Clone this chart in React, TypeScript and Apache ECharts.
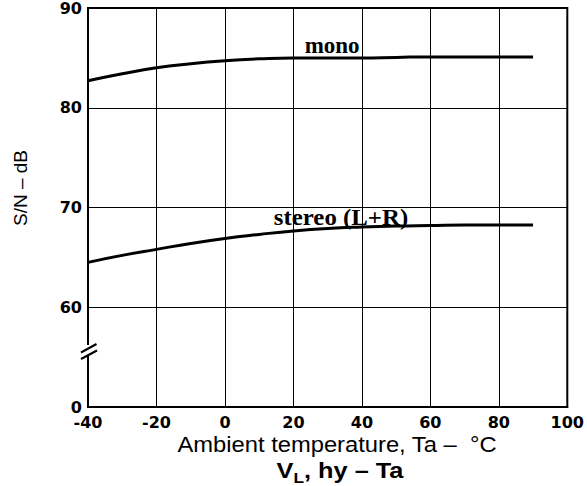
import React, { useEffect, useRef } from "react";
import * as echarts from "echarts";

const temps = [-40, -30, -20, -10, 0, 10, 20, 30, 40, 50, 60, 70, 80, 90];
const mono = [82.7, 83.4, 84.0, 84.4, 84.7, 84.9, 85.0, 85.0, 85.0, 85.05, 85.1, 85.1, 85.1, 85.1];
const stereo = [64.5, 65.2, 65.8, 66.4, 66.9, 67.3, 67.65, 67.9, 68.05, 68.15, 68.2, 68.25, 68.25, 68.25];
const xTicks = [-40, -20, 0, 20, 40, 60, 80, 100];
const yTicks = [50, 60, 70, 80, 90];
const yTickLabels = ["0", "60", "70", "80", "90"];
const curveLabels = [
  { text: "mono", at: [31.3, 86.2] },
  { text: "stereo (L+R)", at: [33.9, 69.0] },
];

export default function App() {
  const ref = useRef<HTMLDivElement>(null);
  useEffect(() => {
    const chart = echarts.init(ref.current!, null, { renderer: "svg" });
    const lineStyle = { color: "#000", width: 3 };
    const staticGraphic: any[] = [
      { type: "rect", shape: { x: 84, y: 345, width: 8, height: 11 }, style: { fill: "#fff" }, z: 100 },
      { type: "line", shape: { x1: 81, y1: 352.5, x2: 96.5, y2: 344 }, style: { stroke: "#000", lineWidth: 2 }, z: 101 },
      { type: "line", shape: { x1: 81, y1: 359, x2: 97, y2: 350.5 }, style: { stroke: "#000", lineWidth: 2 }, z: 101 },
      {
        type: "text",
        x: 20,
        y: 188,
        rotation: Math.PI / 2,
        style: {
          text: "S/N – dB",
          fontFamily: "Liberation Sans",
          fontSize: 19,
          fill: "#000",
          align: "center",
          verticalAlign: "middle",
        },
      },
      {
        type: "text",
        x: 337,
        y: 444,
        scaleX: 1.08,
        style: {
          text: "Ambient temperature, Ta –  °C",
          fontFamily: "Liberation Sans",
          fontSize: 22,
          fill: "#000",
          align: "center",
          verticalAlign: "middle",
        },
      },
      {
        type: "text",
        x: 340,
        y: 471,
        scaleX: 1.15,
        style: {
          text: "{b|V}{s|L}{b|, hy – Ta}",
          align: "center",
          verticalAlign: "middle",
          rich: {
            b: { fontFamily: "Liberation Sans", fontWeight: "bold", fontSize: 22, fill: "#000" },
            s: { fontFamily: "Liberation Sans", fontWeight: "bold", fontSize: 15, fill: "#000", padding: [12, 0, 0, 0] },
          },
        },
      },
    ];
    chart.setOption({
      animation: false,
      backgroundColor: "#fff",
      grid: {
        left: 88,
        top: 8,
        right: 10,
        bottom: 79,
        show: true,
        borderColor: "#000",
        borderWidth: 2,
      },
      xAxis: {
        type: "value",
        min: -40,
        max: 100,
        interval: 20,
        axisLine: { show: true, onZero: false, lineStyle: { color: "#000", width: 2 } },
        axisTick: { show: false },
        splitLine: { show: true, lineStyle: { color: "#000", width: 1 } },
        axisLabel: {
          margin: 8,
          lineHeight: 14,
          fontFamily: "DejaVu Sans",
          fontWeight: "bold",
          fontSize: 16,
          color: "#000",
          customValues: xTicks,
        },
      },
      yAxis: {
        type: "value",
        min: 50,
        max: 90,
        interval: 10,
        axisLine: { show: true, onZero: false, lineStyle: { color: "#000", width: 2 } },
        axisTick: { show: false },
        splitLine: { show: true, lineStyle: { color: "#000", width: 1 } },
        axisLabel: {
          margin: 6,
          lineHeight: 13,
          fontFamily: "DejaVu Sans",
          fontWeight: "bold",
          fontSize: 16,
          color: "#000",
          formatter: (v: number) => {
            const i = yTicks.indexOf(v);
            return i >= 0 ? yTickLabels[i] : "";
          },
        },
      },
      series: [
        {
          type: "line",
          name: "mono",
          data: temps.map((t, i) => [t, mono[i]]),
          smooth: true,
          showSymbol: false,
          lineStyle,
        },
        {
          type: "line",
          name: "stereo",
          data: temps.map((t, i) => [t, stereo[i]]),
          smooth: true,
          showSymbol: false,
          lineStyle,
        },
      ],
      graphic: staticGraphic,
    });
    const labelGraphic = curveLabels.map((c, i) => {
      const p = chart.convertToPixel({ gridIndex: 0 }, c.at) as number[];
      return {
        type: "text",
        x: p[0],
        y: p[1],
        scaleX: i === 1 ? 1.08 : 1,
        z: 50,
        style: {
          text: c.text,
          fontFamily: "Liberation Serif",
          fontWeight: "bold",
          fontSize: 23,
          fill: "#000",
          align: "center",
          verticalAlign: "middle",
        },
      };
    });
    chart.setOption({ graphic: [...staticGraphic, ...labelGraphic] });
    return () => chart.dispose();
  }, []);
  return <div ref={ref} style={{ width: 587, height: 486, position: "absolute", left: 0, top: 0 }} />;
}
